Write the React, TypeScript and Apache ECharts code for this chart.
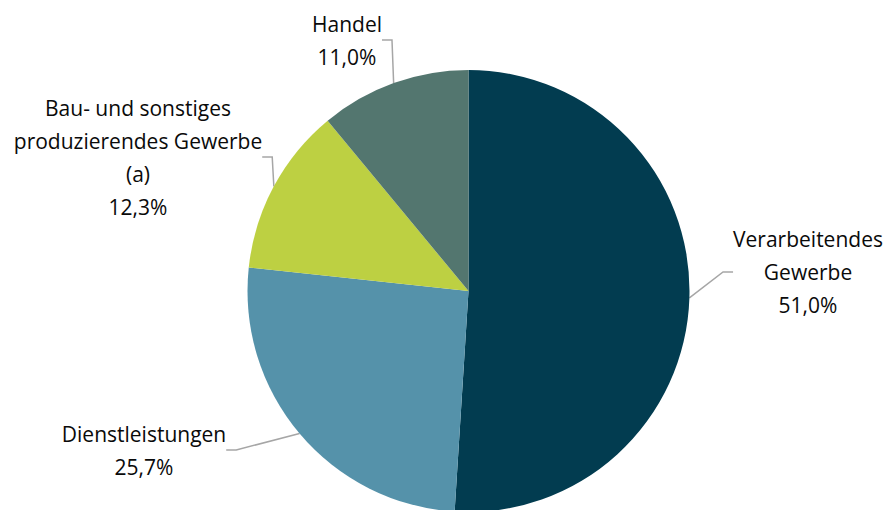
import React, { useEffect, useRef } from "react";
import * as echarts from "echarts";

const categories = [
  "Verarbeitendes\nGewerbe",
  "Dienstleistungen",
  "Bau- und sonstiges\nproduzierendes Gewerbe\n(a)",
  "Handel",
];
const values = [51.0, 25.7, 12.3, 11.0];
const colors = ["#023c50", "#5592aa", "#bdd042", "#53766f"];

// label anchor positions (center x, middle y of label block)
const labelPos = [
  { x: 808, y: 272 },
  { x: 144, y: 450 },
  { x: 138, y: 157 },
  { x: 347, y: 40 },
];

export default function App() {
  const ref = useRef<HTMLDivElement>(null);
  useEffect(() => {
    document.body.style.margin = "0";
    const chart = echarts.init(ref.current!, null, { renderer: "svg" });
    chart.setOption({
      animation: false,
      backgroundColor: "#ffffff",
      series: [
        {
          type: "pie",
          center: [468.5, 291],
          radius: [0, 221],
          startAngle: 90,
          clockwise: true,
          avoidLabelOverlap: false,
          data: categories.map((c, i) => ({
            name: c,
            value: values[i],
            itemStyle: { color: colors[i] },
          })),
          label: {
            show: true,
            formatter: (p: any) =>
              p.name + "\n" + p.value.toFixed(1).replace(".", ",") + "%",
            fontFamily: "Open Sans",
            fontSize: 21,
            lineHeight: 33,
            color: "#0a0a0a",
            align: "center",
          },
          labelLine: {
            show: true,
            length: 15,
            length2: 10,
            lineStyle: { color: "#a6a6a6", width: 1.5 },
          },
          labelLayout: (params: any) => {
            const p = labelPos[params.dataIndex];
            return {
              x: p.x,
              y: p.y,
              align: "center",
              verticalAlign: "middle",
            };
          },
        },
      ],
    });
    return () => chart.dispose();
  }, []);
  return (
    <div
      ref={ref}
      style={{ width: 888, height: 510, position: "absolute", left: 0, top: 0 }}
    />
  );
}
